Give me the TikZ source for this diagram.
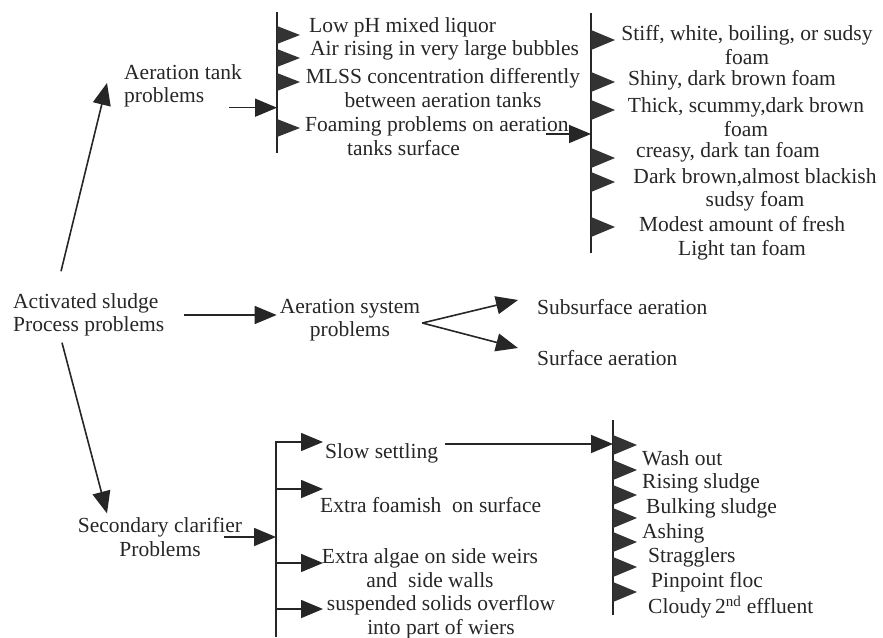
\documentclass[tikz,border=0pt]{standalone}
\usepackage{fontspec}
\setmainfont{Liberation Serif}
\usetikzlibrary{arrows.meta}

\begin{document}
\begin{tikzpicture}[x=1pt,y=-1pt,
  every node/.style={font=\fontsize{21.5}{23.5}\selectfont, inner sep=0pt, text=black!85},
  arr/.style={draw=black!85, line width=1.6pt, -{Triangle[length=22pt,width=18pt]}},
  bar/.style={draw=black!85, line width=1.7pt},
  flag/.style={fill=black!80}]
  \useasboundingbox (0,0) rectangle (883,637);
  \node[anchor=west, align=left] (root) at (13,315) {Activated sludge\\Process problems};
  \node[anchor=west, align=left] (atank) at (124,86) {Aeration tank\\problems};
  \node[align=center] (asys) at (350,320) {Aeration system\\problems};
  \node[anchor=west] (sub) at (537,307) {Subsurface aeration};
  \node[anchor=west] (surf) at (537,358) {Surface aeration};
  \node[align=center] (sec) at (160,537) {Secondary clarifier\\Problems};

  \node[anchor=west] (t1) at (309,27) {Low pH mixed liquor};
  \node[anchor=west] (t2) at (310,50) {Air rising in very large bubbles};
  \node[align=center] (t3) at (443,88) {MLSS concentration differently\\between aeration tanks};
  \node[anchor=west, align=left] (t4) at (305,136) {Foaming problems on aeration\\\hspace*{42pt}tanks surface};

  \node[align=center] (f1) at (747,45) {Stiff, white, boiling, or sudsy\\foam};
  \node[anchor=west] (f2) at (628,80) {Shiny, dark brown foam};
  \node[align=center] (f3) at (746,117) {Thick, scummy,dark brown\\foam};
  \node[anchor=west] (f4) at (636,152) {creasy, dark tan foam};
  \node[align=center] (f5) at (755,190) {Dark brown,almost blackish\\sudsy foam};
  \node[align=center] (f6) at (742,238) {Modest amount of fresh\\Light tan foam};

  \node[anchor=west] (c1) at (325,453) {Slow settling};
  \node[anchor=west] (c2) at (320,505) {Extra foamish\ \ on surface};
  \node[align=center] (c3) at (430,568) {Extra algae on side weirs\\and\ \ side walls};
  \node[align=center] (c4) at (441,617) {suspended solids overflow\\into part of wiers};
  \foreach \n/\x/\y/\t in {w1/642/458/Wash out, w2/642/483/Rising sludge, w3/646/508/Bulking sludge,
      w4/642/533/Ashing, w5/648/557/Stragglers, w6/651/582/Pinpoint floc,
      w7/648/607/{Cloudy\,2\textsuperscript{nd} effluent}}
    \node[anchor=west] (\n) at (\x,\y) {\t};

  \coordinate (b1t) at (277,12);  \coordinate (b1b) at (277,153);
  \coordinate (b2t) at (591,13);  \coordinate (b2b) at (591,253);
  \coordinate (b3t) at (276,442); \coordinate (b3b) at (276,637);
  \coordinate (b4t) at (613,420); \coordinate (b4b) at (613,615);
  \draw[bar] (b1t) -- (b1b);
  \draw[bar] (b2t) -- (b2b);
  \draw[bar] (b4t) -- (b4b);
  \draw[arr] (b3b) -- (b3t) -- ++(47,0);
  \foreach \y in {489,563,609}
    \draw[arr] (b3t |- 0,\y) -- ++(47,0);

  \foreach \y in {35,58,82,128}
    \fill[flag] (b1t |- 0,\y) ++(0,-9) -- ++(23,9) -- ++(-23,9) -- cycle;
  \foreach \y in {40,82,110,158,182,227}
    \fill[flag] (b2t |- 0,\y) ++(0,-10) -- ++(24,10) -- ++(-24,10) -- cycle;
  \foreach \y in {445,470,495,518,542,567,592}
    \fill[flag] (b4t |- 0,\y) ++(0,-10) -- ++(24,10) -- ++(-24,10) -- cycle;

  \draw[arr] ([shift={(48,-22)}]root.north west) -- ([shift={(-17,-3)}]atank.west);
  \draw[arr] ([shift={(49,6)}]root.south west) -- ([shift={(-53,-4)}]sec.north);
  \draw[arr] ([xshift=20pt]root.east) -- ([xshift=-3pt]root.east -| asys.west);
  \draw[arr] ([shift={(2,3)}]asys.east) -- ([shift={(-19,-7)}]sub.west);
  \draw[arr] ([shift={(2,3)}]asys.east) -- ([shift={(-19,-10)}]surf.west);
  \draw[arr] ([xshift=-13pt]atank.south east) coordinate (a1) -- (a1 -| b1t);
  \draw[arr] ([shift={(-23,-2)}]t4.east) coordinate (a2) -- (a2 -| b2t);
  \draw[arr] ([xshift=-18pt]sec.east) coordinate (a3) -- (a3 -| b3t);
  \draw[arr] ([shift={(7,-9)}]c1.east) coordinate (a4) -- (a4 -| b4t);
\end{tikzpicture}
\end{document}
